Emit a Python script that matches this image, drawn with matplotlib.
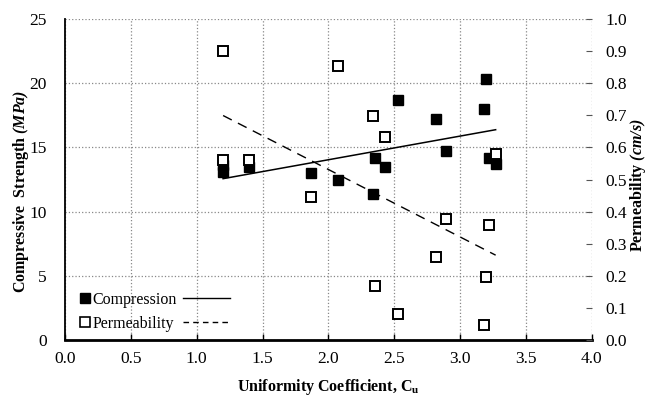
import numpy as np
import matplotlib
matplotlib.use("Agg")
import matplotlib.pyplot as plt
from matplotlib.lines import Line2D

plt.rcParams['font.family'] = 'Liberation Serif'
plt.rcParams['mathtext.fontset'] = 'custom'
plt.rcParams['mathtext.rm'] = 'Liberation Serif'
plt.rcParams['mathtext.bf'] = 'Liberation Serif:bold'
plt.rcParams['mathtext.it'] = 'Liberation Serif:italic'
plt.rcParams['mathtext.bfit'] = 'Liberation Serif:italic:bold'

# uniformity coefficient of each mix
cu = [1.20, 1.20, 1.40, 1.87, 2.07, 2.34, 2.35, 2.43, 2.53, 2.82, 2.89, 3.18, 3.20, 3.22, 3.27]
# compressive strength (MPa)
compression = [13.1, 13.6, 13.5, 13.0, 12.5, 11.4, 14.2, 13.5, 18.7, 17.2, 14.7, 18.0, 20.3, 14.2, 13.7]
# permeability (cm/s)
permeability = [0.90, 0.56, 0.56, 0.445, 0.854, 0.698, 0.168, 0.632, 0.081, 0.258, 0.377, 0.047, 0.197, 0.358, 0.58]

x_ticks = [0.0, 0.5, 1.0, 1.5, 2.0, 2.5, 3.0, 3.5, 4.0]
left_ticks = [0, 5, 10, 15, 20, 25]
right_ticks = [0.0, 0.1, 0.2, 0.3, 0.4, 0.5, 0.6, 0.7, 0.8, 0.9, 1.0]

fig = plt.figure(figsize=(6.51, 4.03), dpi=100)
ax = fig.add_axes([0.100, 0.156, 0.809, 0.797])
ax2 = ax.twinx()

tfs = 12.5   # tick labels
lfs = 11.5   # axis labels / legend

ax.set_xlim(0, 4)
ax.set_ylim(0, 25)
ax2.set_ylim(0, 1)
ax.set_xticks(x_ticks)
ax.set_xticklabels([f"{v:.1f}" for v in x_ticks], fontsize=tfs)
ax.set_yticks(left_ticks)
ax.set_yticklabels([str(v) for v in left_ticks], fontsize=tfs)
ax2.set_yticks(right_ticks)
ax2.set_yticklabels([f"{v:.1f}" for v in right_ticks], fontsize=tfs)

ax.grid(True, color='#888888', linestyle=':', linewidth=0.9)
ax.set_axisbelow(True)
ax.tick_params(axis='x', direction='in', length=4, width=1, pad=8)
ax.tick_params(axis='y', direction='in', length=0, pad=13)
ax2.tick_params(axis='y', direction='in', length=4, width=0.8, pad=10, color='#555555')

for a in (ax, ax2):
    a.spines['top'].set_visible(False)
    a.spines['right'].set_visible(False)
ax2.spines['left'].set_visible(False)
ax2.spines['bottom'].set_visible(False)
ax.spines['bottom'].set_linewidth(2.0)
ax.spines['left'].set_linewidth(1.3)

# scatter
ax.plot(cu, compression, linestyle='none', marker='s', markersize=6.8,
        markerfacecolor='black', markeredgecolor='black', zorder=3)
ax2.plot(cu, permeability, linestyle='none', marker='s', markersize=6.8,
         markerfacecolor='white', markeredgecolor='black', markeredgewidth=1.4, zorder=4)

# linear trends
xs = np.array([min(cu), max(cu)])
c_fit = np.polyfit(cu, compression, 1)
p_fit = np.polyfit(cu, permeability, 1)
ax.plot(xs, np.polyval(c_fit, xs), color='black', linewidth=1.1, zorder=2)
ax2.plot(xs, np.polyval(p_fit, xs), color='black', linewidth=1.0,
         linestyle=(0, (7, 5)), zorder=2)

ax.set_xlabel(r'Uniformity Coefficient, $\mathbf{C_u}$', fontsize=lfs, fontweight='bold')
ax.xaxis.set_label_coords(0.5, -0.115)
ax.set_ylabel(r'Compressive  Strength $\mathbfit{(MPa)}$', fontsize=lfs, fontweight='bold')
ax.yaxis.set_label_coords(-0.083, 0.464)
ax2.set_ylabel(r'Permeability $\mathbfit{(cm/s)}$', fontsize=lfs, fontweight='bold', rotation=90)
ax2.yaxis.set_label_coords(1.088, 0.483)
ax2.yaxis.label.set_verticalalignment('center')
ax.yaxis.label.set_verticalalignment('center')

# legend: marker + label, then the trend line style
mk_handles = [
    Line2D([], [], linestyle='none', marker='s', markersize=6.5,
           markerfacecolor='black', markeredgecolor='black'),
    Line2D([], [], linestyle='none', marker='s', markersize=6.5,
           markerfacecolor='white', markeredgecolor='black', markeredgewidth=1.2),
]
leg1 = ax.legend(mk_handles, ['Compression', 'Permeability'], loc='upper left',
                 bbox_to_anchor=(0.028, 0.15), frameon=False, fontsize=lfs,
                 handlelength=0.6, handletextpad=0.2, labelspacing=0.5,
                 borderpad=0, borderaxespad=0)
ax.add_artist(leg1)
ln_handles = [
    Line2D([], [], color='black', linewidth=1.0),
    Line2D([], [], color='black', linewidth=1.0, linestyle=(0, (4, 3))),
]
ax.legend(ln_handles, ['', ''], loc='upper left', bbox_to_anchor=(0.224, 0.15),
          frameon=False, fontsize=lfs, handlelength=2.95, handletextpad=0,
          labelspacing=0.5, borderpad=0, borderaxespad=0)

fig.savefig('out.png', dpi=100)
